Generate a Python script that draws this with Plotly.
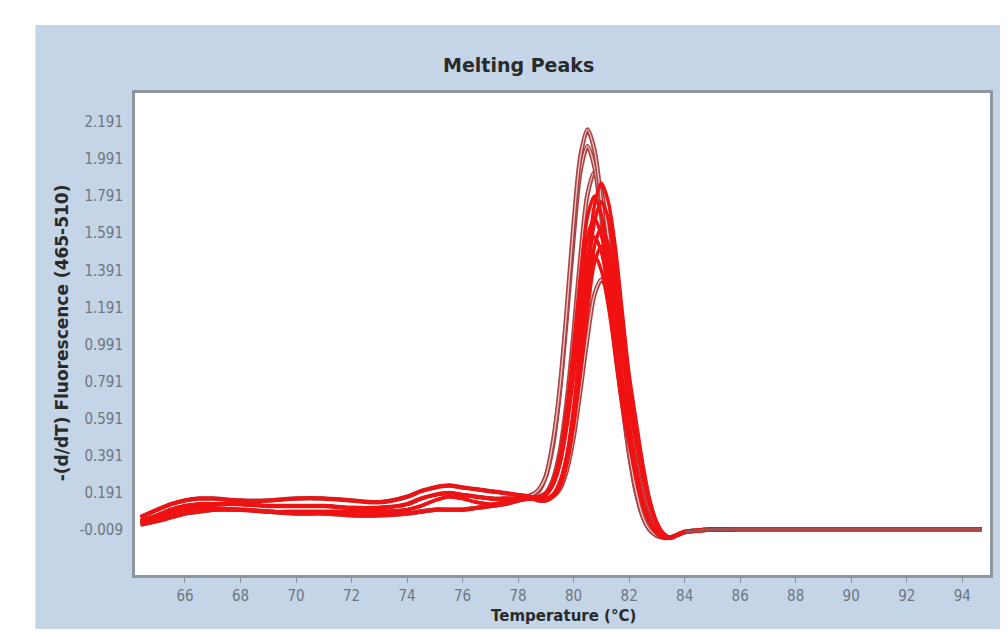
import plotly.graph_objects as go

# Temperature grid (deg C)
temps = [64.4, 65.0, 65.5, 66.0, 66.5, 67.0, 68.0, 69.0, 70.0, 71.0, 72.0, 73.0, 74.0, 74.5,
         75.0, 75.5, 76.0, 76.5, 77.0, 77.5, 78.0,
         78.5, 78.75, 79.0, 79.25, 79.5, 79.75, 80.0, 80.25, 80.5, 80.75, 81.0, 81.25, 81.5,
         81.75, 82.0, 82.25, 82.5, 82.75, 83.0, 83.25, 83.5, 83.75, 84.0,
         84.5, 85.0, 86.0, 88.0, 90.0, 92.0, 94.7]

# Baseline portions (64.4 .. 78.0)
base_a = [0.06, 0.10, 0.13, 0.15, 0.16, 0.16, 0.15, 0.15, 0.16, 0.16, 0.15, 0.14, 0.17, 0.20, 0.22, 0.23, 0.22, 0.21, 0.20, 0.19, 0.18]
base_b = [0.04, 0.07, 0.10, 0.12, 0.13, 0.13, 0.13, 0.12, 0.12, 0.12, 0.11, 0.11, 0.13, 0.16, 0.18, 0.19, 0.18, 0.17, 0.16, 0.16, 0.16]
base_c = [0.02, 0.04, 0.06, 0.08, 0.09, 0.10, 0.10, 0.09, 0.08, 0.08, 0.07, 0.07, 0.08, 0.09, 0.10, 0.10, 0.10, 0.11, 0.12, 0.13, 0.15]
base_d = [0.03, 0.05, 0.08, 0.10, 0.11, 0.11, 0.10, 0.09, 0.09, 0.09, 0.09, 0.09, 0.10, 0.12, 0.15, 0.17, 0.16, 0.14, 0.13, 0.14, 0.15]

# Peak portions (78.5 .. 84.0)
peak_1 = [0.18, 0.21, 0.28, 0.46, 0.75, 1.17, 1.64, 2.01, 2.15, 2.04, 1.76, 1.37, 0.99, 0.70, 0.41, 0.20, 0.06, -0.01, -0.04, -0.05, -0.05, -0.035, -0.02]
peak_2 = [0.18, 0.20, 0.28, 0.44, 0.73, 1.13, 1.57, 1.93, 2.06, 1.95, 1.68, 1.32, 0.95, 0.67, 0.40, 0.19, 0.06, -0.01, -0.04, -0.05, -0.05, -0.035, -0.02]
peak_3 = [0.17, 0.17, 0.19, 0.26, 0.41, 0.68, 1.05, 1.47, 1.80, 1.92, 1.82, 1.57, 1.22, 0.87, 0.61, 0.36, 0.17, 0.04, -0.02, -0.05, -0.05, -0.035, -0.02]
peak_4 = [0.17, 0.17, 0.19, 0.25, 0.39, 0.64, 0.98, 1.37, 1.68, 1.79, 1.69, 1.46, 1.14, 0.81, 0.57, 0.33, 0.15, 0.04, -0.02, -0.05, -0.05, -0.035, -0.02]
peak_5 = [0.16, 0.16, 0.16, 0.18, 0.24, 0.38, 0.62, 0.96, 1.35, 1.65, 1.76, 1.67, 1.43, 1.11, 0.78, 0.55, 0.32, 0.14, 0.03, -0.03, -0.05, -0.035, -0.02]
peak_6 = [0.17, 0.16, 0.18, 0.24, 0.37, 0.60, 0.92, 1.28, 1.57, 1.67, 1.58, 1.36, 1.06, 0.76, 0.53, 0.31, 0.14, 0.03, -0.02, -0.05, -0.05, -0.035, -0.02]
peak_7 = [0.16, 0.16, 0.15, 0.17, 0.23, 0.36, 0.58, 0.89, 1.24, 1.52, 1.62, 1.53, 1.32, 1.02, 0.72, 0.51, 0.29, 0.13, 0.02, -0.03, -0.05, -0.035, -0.02]
peak_8 = [0.16, 0.15, 0.15, 0.17, 0.22, 0.34, 0.55, 0.84, 1.17, 1.43, 1.52, 1.44, 1.24, 0.95, 0.67, 0.47, 0.27, 0.12, 0.02, -0.04, -0.05, -0.035, -0.02]
peak_9 = [0.16, 0.16, 0.18, 0.23, 0.34, 0.54, 0.82, 1.13, 1.38, 1.47, 1.39, 1.20, 0.94, 0.66, 0.46, 0.27, 0.12, 0.03, -0.03, -0.05, -0.05, -0.035, -0.02]
peak_10 = [0.16, 0.15, 0.15, 0.17, 0.21, 0.31, 0.49, 0.75, 1.03, 1.26, 1.34, 1.27, 1.09, 0.84, 0.59, 0.41, 0.24, 0.10, 0.01, -0.04, -0.05, -0.035, -0.02]
peak_11 = [0.17, 0.16, 0.18, 0.24, 0.36, 0.57, 0.87, 1.21, 1.47, 1.57, 1.49, 1.28, 1.00, 0.71, 0.50, 0.29, 0.13, 0.03, -0.03, -0.05, -0.05, -0.035, -0.02]
peak_12 = [0.16, 0.16, 0.16, 0.18, 0.25, 0.39, 0.65, 1.02, 1.42, 1.74, 1.86, 1.76, 1.52, 1.17, 0.83, 0.58, 0.34, 0.15, 0.03, -0.03, -0.05, -0.035, -0.02]

# Common flat tail (84.5 .. 94.7)
tail = [-0.012, -0.007, -0.005, -0.005, -0.005, -0.005, -0.005]

RED = "#f01212"
DARK = "#a94444"

# (baseline, peak, colour) for each sample; dark ones drawn first (underneath)
samples = [
    (base_c, peak_10, DARK),
    (base_a, peak_3, DARK),
    (base_c, peak_2, DARK),
    (base_b, peak_1, DARK),
    (base_b, peak_5, RED),
    (base_a, peak_6, RED),
    (base_c, peak_7, RED),
    (base_b, peak_8, RED),
    (base_d, peak_9, RED),
    (base_a, peak_11, RED),
    (base_b, peak_12, RED),
    (base_d, peak_4, RED),
]

x_ticks = [66, 68, 70, 72, 74, 76, 78, 80, 82, 84, 86, 88, 90, 92, 94]
y_tickvals = [-0.009, 0.191, 0.391, 0.591, 0.791, 0.991, 1.191, 1.391, 1.591, 1.791, 1.991, 2.191]
y_ticktext = ["-0.009", "0.191", "0.391", "0.591", "0.791", "0.991", "1.191", "1.391", "1.591", "1.791", "1.991", "2.191"]

fig = go.Figure()
for base, peak, col in samples:
    ys = base + peak + tail
    if col == DARK:
        fig.add_trace(go.Scatter(x=temps, y=ys, mode="lines", line=dict(color=col, width=4.5, shape="spline", smoothing=0.8),
                                 hoverinfo="skip", showlegend=False))
        fig.add_trace(go.Scatter(x=temps, y=ys, mode="lines", line=dict(color="#eec4c4", width=1.3, shape="spline", smoothing=0.8),
                                 hoverinfo="skip", showlegend=False))
    else:
        fig.add_trace(go.Scatter(x=temps, y=ys, mode="lines", line=dict(color=col, width=3.5, shape="spline", smoothing=0.8),
                                 hoverinfo="skip", showlegend=False))

# dark single tail line drawn on top
fig.add_trace(go.Scatter(x=temps[43:], y=[-0.02] + tail, mode="lines",
                         line=dict(color="#a05050", width=3, shape="spline"), hoverinfo="skip", showlegend=False))

tick_font = dict(family="Liberation Sans Narrow, DejaVu Sans Condensed, sans-serif", size=15, color="#6e7680")
frame = "#8d959d"

fig.update_layout(
    width=992, height=621,
    margin=dict(l=127, r=7, t=85, b=54),
    paper_bgcolor="white", plot_bgcolor="white",
    shapes=[
        dict(type="rect", xref="paper", yref="paper", x0=-0.1166, x1=1.03, y0=-0.16, y1=1.141,
             fillcolor="#c3d5e7", line=dict(width=0), layer="below"),
        dict(type="rect", xref="paper", yref="paper", x0=0, x1=1, y0=0, y1=1,
             fillcolor="white", line=dict(width=0), layer="below"),
    ],
    xaxis=dict(range=[64.2, 95.0], tickvals=x_ticks, ticktext=[str(v) for v in x_ticks],
               showgrid=False, zeroline=False, showline=True, mirror=True, linecolor=frame, linewidth=3,
               ticks="outside", ticklen=5, tickwidth=1, tickcolor=frame, tickfont=tick_font),
    yaxis=dict(range=[-0.252, 2.347], tickvals=y_tickvals, ticktext=y_ticktext,
               showgrid=False, zeroline=False, showline=True, mirror=True, linecolor=frame, linewidth=3,
               ticks="", ticklabelstandoff=6, tickfont=tick_font),
    annotations=[
        dict(text="<b>Melting Peaks</b>", xref="paper", yref="paper", x=0.4487, y=1.058,
             xanchor="center", yanchor="middle", showarrow=False,
             font=dict(family="DejaVu Sans", size=19, color="#2a2a2a")),
        dict(text="<b>Temperature (°C)</b>", xref="paper", yref="paper", x=0.501, y=-0.086,
             xanchor="center", yanchor="middle", showarrow=False,
             font=dict(family="DejaVu Sans", size=15, color="#2a2a2a")),
        dict(text="<b>-(d/dT) Fluorescence (465-510)</b>", xref="paper", yref="paper", x=-0.0851, y=0.502,
             xanchor="center", yanchor="middle", showarrow=False, textangle=-90,
             font=dict(family="DejaVu Sans", size=17, color="#2a2a2a")),
    ],
)

fig.write_html("out.html")
